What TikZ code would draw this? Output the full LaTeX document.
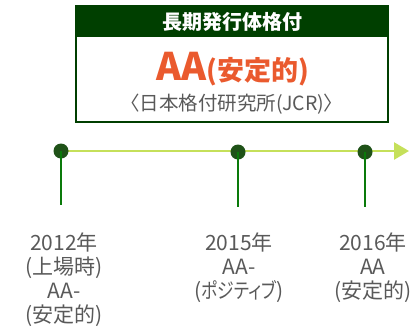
\documentclass[tikz,border=0pt]{standalone}
\usepackage{fontspec}
\usepackage{graphicx}
\setmainfont{Noto Sans CJK JP}[RawFeature=+palt]
\usetikzlibrary{arrows.meta}
\definecolor{hdr}{HTML}{003F00}
\definecolor{orng}{HTML}{EA5A2E}
\definecolor{txtg}{HTML}{595959}
\definecolor{lime}{HTML}{C5E05A}
\definecolor{dotg}{HTML}{1F5218}
\definecolor{stem}{HTML}{0A7A0A}
\tikzset{
  dotnode/.style={circle,fill=dotg,minimum size=15pt,inner sep=0pt},
  yearlabel/.style={text=txtg,font=\fontsize{21}{24}\selectfont,align=center,anchor=base,inner sep=0pt},
  stemline/.style={draw=stem,line width=2pt}
}
\begin{document}
\begin{tikzpicture}[x=1pt,y=-1pt]
\useasboundingbox (0,0) rectangle (417,327);
% box
\fill[hdr] (76,6) rectangle (388,37);
\draw[hdr,line width=1.5pt] (76,6) rectangle (388,122);
\node[text=white,font=\fontsize{20}{20}\selectfont\bfseries,anchor=base,inner sep=0pt] (hd) at (232,29) {長期発行体格付};
\node[text=orng,font=\bfseries,inner sep=0pt,anchor=base] (rt) at (233,80) {\fontsize{38}{38}\selectfont AA\fontsize{27}{27}\selectfont(安定的)};
\node[text=txtg,font=\fontsize{19.5}{20}\selectfont,anchor=base,inner sep=0pt] (src) at (232,110) {〈日本格付研究所(JCR)〉};
% timeline
\coordinate (ts) at (60,151);
\coordinate (te) at (409,151);
\draw[lime,line width=2.5pt,-{Triangle[length=15pt,width=17pt]}] (ts) -- (te);
\coordinate (b1) at (61,205);
\coordinate (b2) at (238,207);
\coordinate (b3) at (365,207);
\node[dotnode] (d1) at (61,151) {};
\node[dotnode] (d2) at (238,152) {};
\node[dotnode] (d3) at (365,152) {};
\draw[stemline] (d1.center) -- (b1);
\draw[stemline] (d2.center) -- (b2);
\draw[stemline] (d3.center) -- (b3);
\node[yearlabel] (l1) at (64,322) {2012年\\(上場時)\\AA-\\(安定的)};
\node[yearlabel] (l2) at (239,298) {2015年\\AA-\\(\scalebox{0.8}[1]{ポジティブ})};
\node[yearlabel] (l3) at (373,298) {2016年\\AA\\(安定的)};
\end{tikzpicture}
\end{document}
